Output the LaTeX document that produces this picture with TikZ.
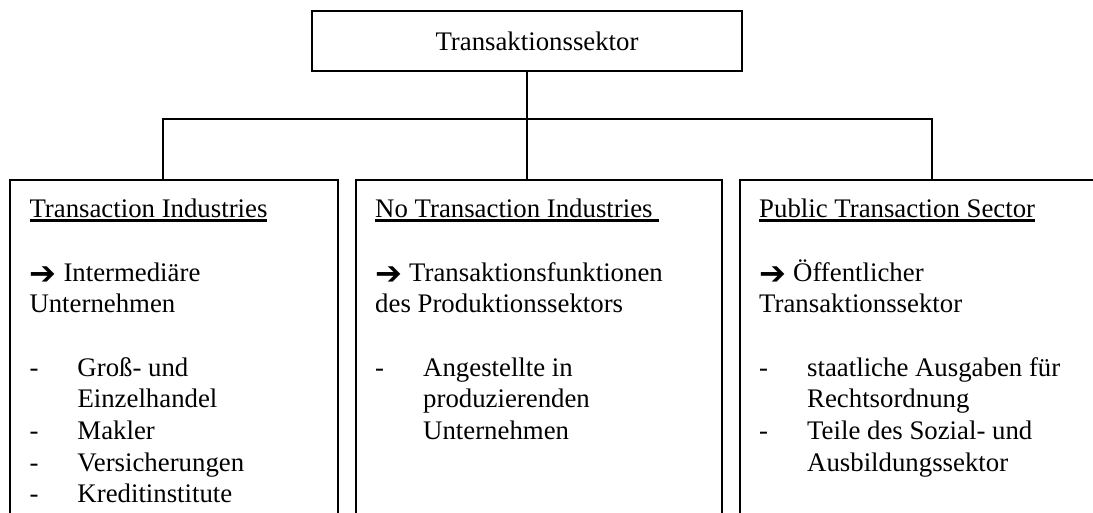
\documentclass[tikz,border=0pt]{standalone}
\usepackage{fontspec}
\setmainfont{Liberation Serif}
\newfontfamily\arrowfont{DejaVu Sans}[Scale=1.2]
\newcommand\myul[1]{\leavevmode\setbox0\hbox{#1}\rlap{\rule[-4pt]{\wd0}{2.2pt}}\box0}
\newcommand\arr{\leavevmode\makebox[34pt][l]{\raisebox{-3.5pt}{\arrowfont ➔}}}
\newcommand\itm{\par\hangindent=48pt\hangafter=1\noindent\makebox[48pt][l]{-}}
\newcommand\blankline{\par\mbox{}\par}
\tikzset{
  box/.style={draw, line width=1.8pt, inner sep=0pt, anchor=north west},
  topbox/.style={draw, line width=1.8pt, inner sep=0pt, minimum width=430pt, minimum height=59.7pt},
  conn/.style={line width=1.8pt},
  txt/.style={anchor=base west, inner sep=0pt},
}
\begin{document}
\begin{tikzpicture}[x=1pt, y=-1pt, font=\fontsize{26.8}{31.7}\selectfont]
\useasboundingbox (0,0) rectangle (1093,513);
\clip (0,0) rectangle (1093,513);
\node[topbox] (top) at (527,40.85) {\hspace*{20pt}Transaktionssektor};
\node[box, minimum width=328.3pt, minimum height=420pt] (b1) at (8.7,179.3) {};
\node[box, minimum width=366pt, minimum height=420pt] (b2) at (355,179.3) {};
\node[box, minimum width=366pt, minimum height=420pt] (b3) at (739,179.3) {};
\coordinate (j1) at (163,119);
\coordinate (j3) at (932,119);
\draw[conn] (top.south) -- (top.south |- b2.north);
\draw[conn] (b1.north -| j1) -- (j1) -- (j3) -- (b3.north -| j3);
\node[txt] (t1) at (29.3,217.7) {\parbox[t]{340pt}{%
\myul{Transaction Industries}\blankline
\arr Intermediäre\\Unternehmen\blankline
\itm Groß- und\\Einzelhandel
\itm Makler
\itm Versicherungen
\itm Kreditinstitute}};
\node[txt] (t2) at (375,217.7) {\parbox[t]{340pt}{%
\myul{No Transaction Industries\ }\blankline
\arr Transaktionsfunktionen\\des Produktionssektors\blankline
\itm Angestellte in\\produzierenden\\Unternehmen}};
\node[txt] (t3) at (759,217.7) {\parbox[t]{330pt}{%
\myul{Public Transaction Sector}\blankline
\arr Öffentlicher\\Transaktionssektor\blankline
\itm staatliche Ausgaben für\\Rechtsordnung
\itm Teile des Sozial- und\\Ausbildungssektor}};
\end{tikzpicture}
\end{document}
